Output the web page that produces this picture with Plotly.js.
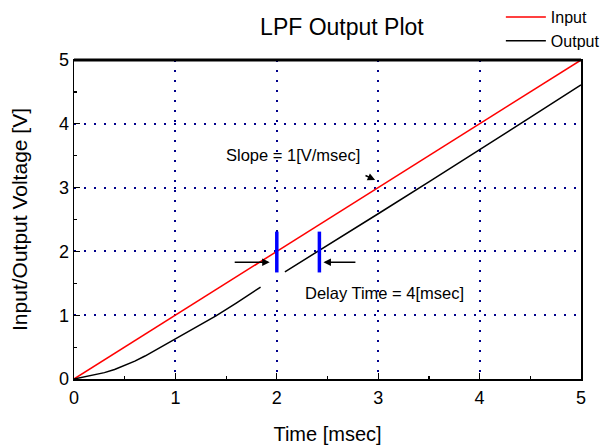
<!DOCTYPE html>
<html>
<head>
<meta charset="utf-8">
<script src="https://cdn.plot.ly/plotly-3.0.1.min.js"></script>
<style>html,body{margin:0;padding:0;background:#fff;}#chart{width:602px;height:447px;}</style>
</head>
<body>
<div id="chart"></div>
<script>
// Input signal (ramp)
const inputX = [0, 5];
const inputY = [0, 5];
// Output signal (gap near the delay markers)
const outputX = [0, 0.1, 0.2, 0.3, 0.4, 0.5, 0.6, 0.7, 0.8, 0.9, 1.0, 1.2, 1.4, 1.6, 1.8, 1.84, null, 2.08, 2.5, 3.0, 3.5, 4.0, 4.5, 5.0];
const outputY = [0, 0.03, 0.06, 0.10, 0.15, 0.21, 0.28, 0.36, 0.45, 0.54, 0.63, 0.80, 0.99, 1.19, 1.40, 1.44, null, 1.68, 2.09, 2.59, 3.09, 3.59, 4.10, 4.61];
// Delay markers
const markerX = [2.0, 2.42];
const markerYLow = 1.67;
const markerYHigh = 2.31;
const tickVals = [0, 1, 2, 3, 4, 5];

const font = "Liberation Sans, Arial, sans-serif";
const traces = [
  {x: inputX, y: inputY, mode: 'lines', name: 'Input', line: {color: '#ff0000', width: 1.5}},
  {x: outputX, y: outputY, mode: 'lines', name: 'Output', line: {color: '#000000', width: 1.5}, connectgaps: false}
];
markerX.forEach(function (mx) {
  traces.push({x: [mx, mx], y: [markerYLow, markerYHigh], mode: 'lines', showlegend: false, hoverinfo: 'skip',
    line: {color: '#0000ff', width: 3.5}});
});

const axisCommon = {
  range: [0, 5], tickvals: tickVals, ticks: 'inside', ticklen: 6, tickcolor: '#000', tickwidth: 1.2,
  showline: true, linecolor: '#000', linewidth: 1.5, mirror: true, zeroline: false,
  showgrid: true, gridcolor: '#00008b', gridwidth: 2, griddash: '2px,8px',
  minor: {dtick: 0.5, ticks: 'inside', ticklen: 3, tickcolor: '#000', showgrid: false},
  tickfont: {family: font, size: 18, color: '#000'}
};

const layout = {
  width: 602, height: 447,
  margin: {l: 74, r: 21, t: 60, b: 68, autoexpand: false},
  paper_bgcolor: '#fff', plot_bgcolor: '#fff',
  title: {text: 'LPF Output Plot', x: 0.568, xanchor: 'center', y: 0.94, yanchor: 'middle',
    font: {family: font, size: 23, color: '#000'}},
  xaxis: Object.assign({}, axisCommon, {ticklabelstandoff: 2, title: {text: 'Time [msec]', standoff: 20, font: {family: font, size: 20, color: '#000'}}}),
  yaxis: Object.assign({}, axisCommon, {title: {text: 'Input/Output Voltage [V]', standoff: 25, font: {family: font, size: 21, color: '#000'}}}),
  showlegend: true,
  legend: {xref: 'container', yref: 'container', x: 0.832, xanchor: 'left', y: 1.0, yanchor: 'top', bgcolor: 'rgba(0,0,0,0)',
    font: {family: font, size: 16, color: '#000'}, tracegroupgap: 0, itemwidth: 40},
  shapes: [
    {type: 'line', xref: 'paper', yref: 'paper', x0: 0, x1: 1, y0: 1, y1: 1, line: {color: '#000', width: 3}}
  ],
  annotations: [
    {x: 1.93, y: 1.83, ax: 1.57, ay: 1.83, xref: 'x', yref: 'y', axref: 'x', ayref: 'y', text: '', showarrow: true,
      arrowhead: 2, arrowsize: 1, arrowwidth: 1.5, arrowcolor: '#000'},
    {x: 2.46, y: 1.83, ax: 2.79, ay: 1.83, xref: 'x', yref: 'y', axref: 'x', ayref: 'y', text: '', showarrow: true,
      arrowhead: 2, arrowsize: 1, arrowwidth: 1.5, arrowcolor: '#000'},
    {x: 2.97, y: 3.12, ax: 2.86, ay: 3.2, xref: 'x', yref: 'y', axref: 'x', ayref: 'y', text: '', showarrow: true,
      arrowhead: 2, arrowsize: 1, arrowwidth: 1.5, arrowcolor: '#000'},
    {x: 2.16, y: 3.51, xref: 'x', yref: 'y', text: 'Slope = 1[V/msec]', showarrow: false,
      font: {family: font, size: 16.5, color: '#000'}},
    {x: 3.06, y: 1.35, xref: 'x', yref: 'y', text: 'Delay Time = 4[msec]', showarrow: false,
      font: {family: font, size: 16.5, color: '#000'}}
  ]
};

Plotly.newPlot('chart', traces, layout, {displayModeBar: false, staticPlot: true});
</script>
</body>
</html>
